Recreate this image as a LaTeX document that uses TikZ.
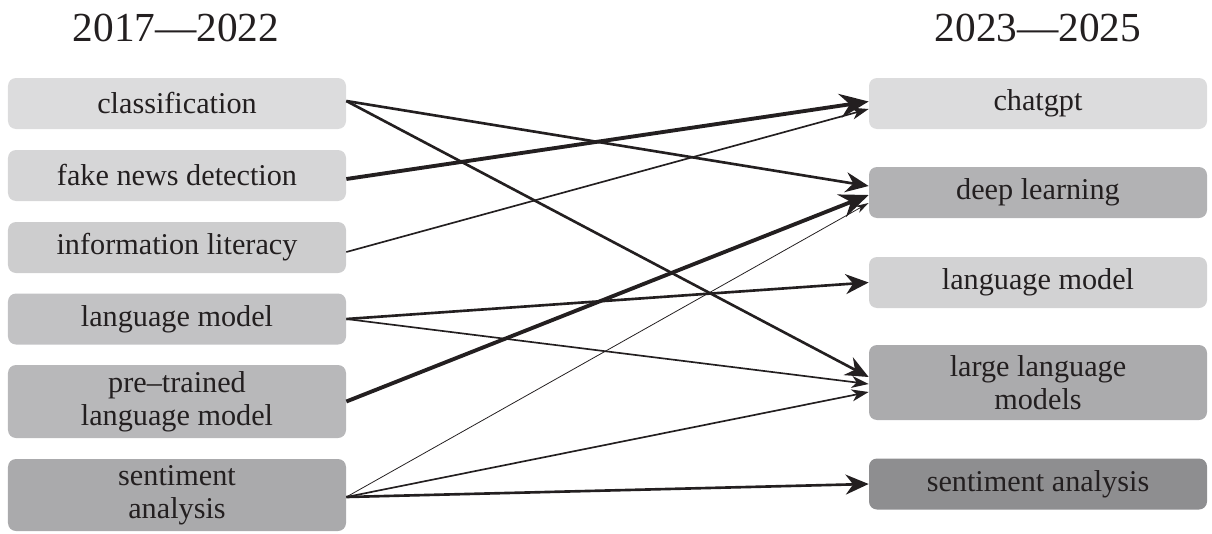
\documentclass[tikz,border=0pt]{standalone}
\usepackage{fontspec}
\setmainfont{Liberation Serif}
\usepackage{xcolor}
\usetikzlibrary{arrows.meta}
\definecolor{encre}{HTML}{231F20}
\definecolor{grisA}{HTML}{DCDCDD}
\definecolor{grisB}{HTML}{D6D6D7}
\definecolor{grisC}{HTML}{CDCDCE}
\definecolor{grisD}{HTML}{C2C2C4}
\definecolor{grisE}{HTML}{B8B8BA}
\definecolor{grisF}{HTML}{AAAAAC}
\definecolor{grisG}{HTML}{D2D2D3}
\definecolor{grisH}{HTML}{B2B2B4}
\definecolor{grisI}{HTML}{ABABAD}
\definecolor{grisJ}{HTML}{8E8E90}
\tikzset{
Boite/.style={
 fill=#1, 
 draw=none, 
 rounded corners=0.16cm, 
 minimum width=6.76cm, 
 minimum height=1.02cm, 
 inner sep=0pt, 
 align=center, 
 text=encre, 
 font=\fontsize{17.2}{18.6}\selectfont
 },
Titre/.style={
 anchor=base, 
 text=encre, 
 font=\fontsize{23.5}{26}\selectfont
 },
FlecheForte/.style={
 draw=encre, 
 line width=2.2pt, 
 -{Stealth[length=0.58cm,width=0.48cm,inset=0.2cm]}
 },
FlecheMoyenne/.style={
 draw=encre, 
 line width=1.5pt, 
 -{Stealth[length=0.46cm,width=0.4cm,inset=0.15cm]}
 },
FlecheFine/.style={
 draw=encre, 
 line width=0.95pt, 
 -{Stealth[length=0.34cm,width=0.24cm,inset=0.1cm]}
 },
FlecheMince/.style={
 draw=encre, 
 line width=0.45pt, 
 -{Stealth[length=0.26cm,width=0.15cm,inset=0.08cm]}
 }
}
\begin{document}
\begin{tikzpicture}
\useasboundingbox (0,0) rectangle (24.24,-10.68);
% titres
\node[Titre] (t1) at (3.52,-0.84) {2017---2022};
\node[Titre] (t2) at (20.76,-0.84) {2023---2025};
% colonne gauche
\node[Boite=grisA] (g1) at (3.54,-2.07) {classification};
\node[Boite=grisB] (g2) at (3.54,-3.51) {fake news detection};
\node[Boite=grisC] (g3) at (3.54,-4.95) {information literacy};
\node[Boite=grisD] (g4) at (3.54,-6.38) {language model};
\node[Boite=grisE,minimum height=1.46cm] (g5) at (3.54,-8.03) {pre--trained\\language model};
\node[Boite=grisF,minimum height=1.44cm] (g6) at (3.54,-9.9) {sentiment\\analysis};
% colonne droite
\node[Boite=grisA] (d1) at (20.76,-2.07) {chatgpt};
\node[Boite=grisH] (d2) at (20.76,-3.85) {deep learning};
\node[Boite=grisG] (d3) at (20.76,-5.65) {language model};
\node[Boite=grisI,minimum height=1.5cm] (d4) at (20.76,-7.65) {large language\\models};
\node[Boite=grisJ] (d5) at (20.76,-9.68) {sentiment analysis};
% liens
\draw[FlecheMoyenne] ([yshift=0.05cm]g1.east) -- ([yshift=0.13cm]d2.west);
\draw[FlecheMoyenne] ([yshift=0.05cm]g1.east) -- ([yshift=0.11cm]d4.west);
\draw[FlecheForte] ([yshift=-0.07cm]g2.east) -- ([yshift=0.04cm]d1.west);
\draw[FlecheFine] ([yshift=-0.09cm]g3.east) -- ([yshift=-0.11cm]d1.west);
\draw[FlecheMoyenne] (g4.east) -- (d3.west);
\draw[FlecheFine] (g4.east) -- ([yshift=-0.03cm]d4.west);
\draw[FlecheForte] (g5.east) -- ([yshift=-0.05cm]d2.west);
\draw[FlecheMince] ([yshift=-0.04cm]g6.east) -- ([yshift=-0.21cm]d2.west);
\draw[FlecheFine] ([yshift=-0.04cm]g6.east) -- ([yshift=-0.19cm]d4.west);
\draw[FlecheMoyenne] ([yshift=-0.04cm]g6.east) -- (d5.west);
\end{tikzpicture}
\end{document}
